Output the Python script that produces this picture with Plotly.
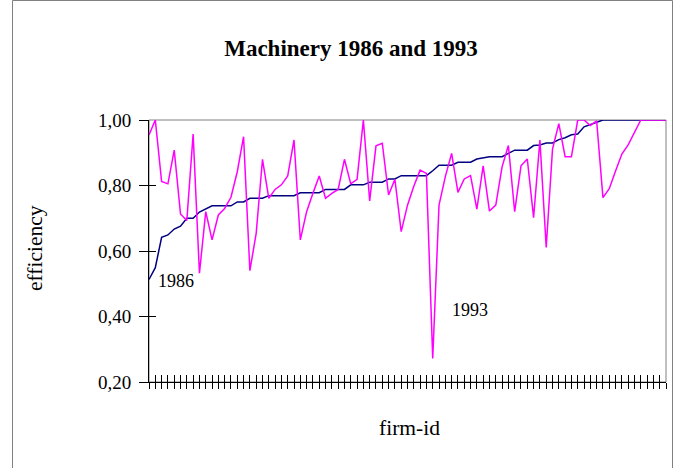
import plotly.graph_objects as go

firm_id = list(range(1, 84))

eff_1986 = [0.513, 0.549, 0.642, 0.649, 0.667, 0.676, 0.700, 0.700, 0.719, 0.728,
            0.738, 0.738, 0.738, 0.738, 0.750, 0.750, 0.761, 0.761, 0.761, 0.769,
            0.769, 0.769, 0.769, 0.769, 0.778, 0.778, 0.778, 0.778, 0.788, 0.788,
            0.788, 0.788, 0.802, 0.802, 0.802, 0.810, 0.810, 0.810, 0.820, 0.820,
            0.830, 0.830, 0.830, 0.830, 0.830, 0.845, 0.862, 0.862, 0.862, 0.871,
            0.871, 0.871, 0.881, 0.885, 0.888, 0.888, 0.888, 0.898, 0.908, 0.908,
            0.908, 0.922, 0.924, 0.930, 0.930, 0.940, 0.946, 0.955, 0.957, 0.979,
            0.986, 0.993, 1.0, 1.0, 1.0, 1.0, 1.0, 1.0, 1.0, 1.0,
            1.0, 1.0, 1.0]

eff_1993 = [0.954, 1.00, 0.812, 0.805, 0.908, 0.713, 0.693, 0.957, 0.532, 0.720,
            0.634, 0.710, 0.730, 0.764, 0.842, 0.949, 0.540, 0.654, 0.880, 0.761,
            0.788, 0.802, 0.829, 0.939, 0.634, 0.720, 0.776, 0.829, 0.761, 0.776,
            0.788, 0.880, 0.805, 0.819, 1.00, 0.753, 0.921, 0.929, 0.771, 0.819,
            0.659, 0.740, 0.798, 0.847, 0.837, 0.272, 0.740, 0.827, 0.898, 0.779,
            0.820, 0.830, 0.728, 0.860, 0.722, 0.740, 0.857, 0.922, 0.720, 0.860,
            0.881, 0.702, 0.939, 0.611, 0.911, 0.989, 0.888, 0.888, 1.00, 1.00,
            0.983, 0.997, 0.763, 0.790, 0.844, 0.896, 0.924, 0.962, 1.00, 1.00,
            1.00, 1.00, 1.00]

y_ticks = [0.2, 0.4, 0.6, 0.8, 1.0]
y_tick_labels = ["0,20", "0,40", "0,60", "0,80", "1,00"]

FONT = "Liberation Serif, Times New Roman, serif"
W, H = 674, 468
L, R, T, B = 149, 8, 120, 86
pw, ph = W - L - R, H - T - B

def px_x(p):
    return (p - L) / pw

def px_y(p):
    return (H - B - p) / ph

fig = go.Figure()
fig.add_trace(go.Scatter(x=firm_id, y=eff_1993, mode="lines", name="1993",
                         line=dict(color="#FF00FF", width=1.5), xaxis="x2", yaxis="y2"))
fig.add_trace(go.Scatter(x=firm_id, y=eff_1986, mode="lines", name="1986",
                         line=dict(color="#000080", width=1.5)))

xr = [firm_id[0], firm_id[-1]]
yr = [0.2, 1.0]

fig.update_layout(
    width=W, height=H,
    margin=dict(l=L, r=R, t=T, b=B, autoexpand=False),
    paper_bgcolor="white", plot_bgcolor="white",
    showlegend=False,
    font=dict(family=FONT, color="black", size=19),
    title=dict(text="<b>Machinery 1986 and 1993</b>", xref="container", yref="container",
               x=351 / W, y=1 - 48 / H, xanchor="center", yanchor="middle",
               font=dict(family=FONT, size=23, color="black")),
    xaxis=dict(range=xr, dtick=1, tick0=1, ticks="outside", ticklen=6, tickwidth=1,
               tickcolor="black", showticklabels=False, showgrid=False, zeroline=False,
               showline=True, linecolor="black", linewidth=1, automargin=False),
    xaxis2=dict(range=xr, dtick=1, tick0=1, ticks="inside", ticklen=7, tickwidth=1,
                tickcolor="black", showticklabels=False, showgrid=False, zeroline=False,
                overlaying="x", anchor="y2", side="bottom", showline=False),
    yaxis=dict(range=yr, tickvals=y_ticks, ticktext=y_tick_labels, ticks="outside",
               ticklen=9, tickwidth=1, tickcolor="black", showgrid=False, zeroline=False,
               showline=True, linecolor="black", linewidth=1, automargin=False,
               ticklabelstandoff=4, tickfont=dict(family=FONT, size=19)),
    yaxis2=dict(range=yr, tickvals=y_ticks, ticks="inside", ticklen=7, tickwidth=1,
                tickcolor="black", showticklabels=False, showgrid=False, zeroline=False,
                overlaying="y", anchor="x2", side="left", showline=False),
    shapes=[
        dict(type="rect", xref="paper", yref="paper", x0=0, x1=1, y0=0, y1=1,
             line=dict(color="#808080", width=1), layer="below"),
        dict(type="rect", xref="paper", yref="paper", x0=px_x(12.5), x1=px_x(672.5),
             y0=px_y(475), y1=px_y(0.5), line=dict(color="#808080", width=1), layer="below"),
    ],
    annotations=[
        dict(text="1986", xref="paper", yref="paper", x=px_x(176), y=px_y(281),
             xanchor="center", yanchor="middle",
             showarrow=False, font=dict(family=FONT, size=18, color="black")),
        dict(text="1993", xref="paper", yref="paper", x=px_x(470), y=px_y(310),
             xanchor="center", yanchor="middle",
             showarrow=False, font=dict(family=FONT, size=18, color="black")),
        dict(text="efficiency", xref="paper", yref="paper", x=px_x(35), y=px_y(248),
             xanchor="center", yanchor="middle", textangle=-90,
             showarrow=False, font=dict(family=FONT, size=21.5, color="black")),
        dict(text="firm-id", xref="paper", yref="paper", x=px_x(409), y=px_y(428),
             xanchor="center", yanchor="middle",
             showarrow=False, font=dict(family=FONT, size=21.5, color="black")),
    ],
)

fig.write_html("out.html", config={"displayModeBar": False},
               post_script="document.body.style.margin='0';")
